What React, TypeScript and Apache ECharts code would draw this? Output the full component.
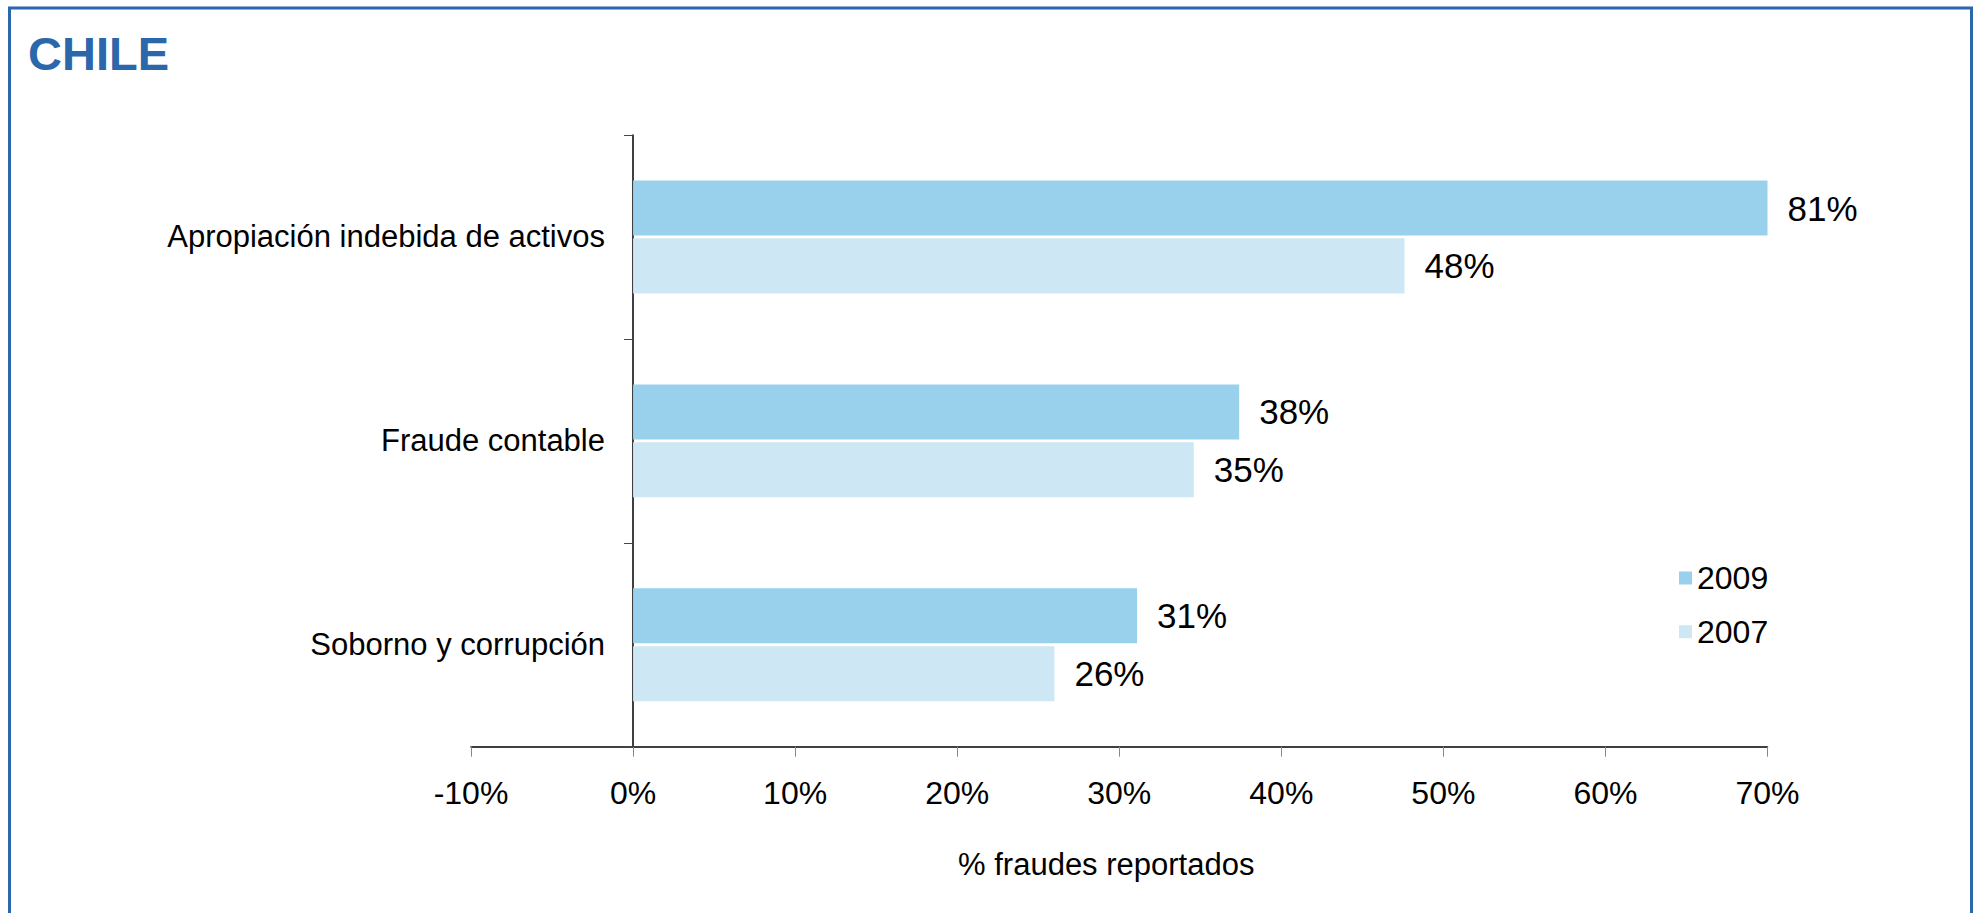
import React, { useEffect, useRef } from "react";
import * as echarts from "echarts";

const titleText = "CHILE";
const categories = ["Apropiación indebida de activos", "Fraude contable", "Soborno y corrupción"];
const seriesNames = ["2009", "2007"];
const values2009 = [81, 37.4, 31.1];
const values2007 = [47.6, 34.6, 26.0];
const labels2009 = ["81%", "38%", "31%"];
const labels2007 = ["48%", "35%", "26%"];
const axisMin = -10;
const axisMax = 70;
const axisInterval = 10;
const axisTitle = "% fraudes reportados";

const FONT = "'Liberation Sans', Arial, Helvetica, sans-serif";

export default function App() {
  const ref = useRef<HTMLDivElement>(null);
  useEffect(() => {
    if (!ref.current) return;
    const chart = echarts.init(ref.current, null, { renderer: "svg" });
    const mkSeries = (name: string, data: number[], labels: string[], color: string) => ({
      name,
      type: "bar",
      data,
      clip: true,
      barWidth: "27%",
      barGap: "5%",
      itemStyle: { color },
      label: {
        show: true,
        position: "right",
        distance: 20,
        fontSize: 35,
        fontFamily: FONT,
        color: "#000",
        formatter: (p: any) => labels[p.dataIndex],
      },
    });
    chart.setOption({
      animation: false,
      backgroundColor: "#fff",
      textStyle: { fontFamily: FONT },
      grid: {
        left: 471,
        right: 213.5,
        top: 135,
        bottom: 166.3,
        containLabel: false,
        outerBoundsMode: "none",
      },
      legend: {
        orient: "vertical",
        left: 1674,
        top: 557,
        itemWidth: 13,
        itemHeight: 13,
        itemGap: 21.7,
        icon: "rect",
        selectedMode: false,
        data: seriesNames,
        textStyle: { fontSize: 32, color: "#000", fontFamily: FONT },
      },
      xAxis: {
        type: "value",
        min: axisMin,
        max: axisMax,
        interval: axisInterval,
        name: axisTitle,
        nameLocation: "middle",
        nameGap: 102,
        nameTextStyle: { fontSize: 31, color: "#000", fontFamily: FONT, padding: [0, 26, 0, 0] },
        splitLine: { show: false },
        axisLine: { show: true, lineStyle: { color: "#000", width: 1.5 } },
        axisTick: { show: true, length: 10, lineStyle: { color: "#888" } },
        axisLabel: {
          margin: 30,
          fontSize: 32,
          color: "#000",
          fontFamily: FONT,
          formatter: (v: number) => `${Math.round(v)}%`,
        },
      },
      yAxis: {
        type: "category",
        inverse: true,
        data: categories,
        axisLine: { show: true, lineStyle: { color: "#000", width: 1.5 } },
        axisTick: { show: true, length: 9, lineStyle: { color: "#444" } },
        axisLabel: { margin: -134, fontSize: 31, color: "#000", fontFamily: FONT },
      },
      graphic: [
        {
          type: "rect",
          shape: { x: 9.5, y: 8, width: 1962, height: 1000 },
          style: { fill: "none", stroke: "#2B67AB", lineWidth: 3 },
          silent: true,
        },
        {
          type: "text",
          x: 28,
          y: 53,
          style: {
            text: titleText,
            fontSize: 47,
            fontWeight: "bold",
            fontFamily: FONT,
            fill: "#2B67AB",
            verticalAlign: "middle",
            align: "left",
          },
        },
      ],
      series: [
        mkSeries(seriesNames[0], values2009, labels2009, "#99D1EC"),
        mkSeries(seriesNames[1], values2007, labels2007, "#CDE7F5"),
      ],
    });
    return () => chart.dispose();
  }, []);
  return (
    <div
      ref={ref}
      style={{ position: "fixed", left: 0, top: 0, width: 1981, height: 913 }}
    />
  );
}
